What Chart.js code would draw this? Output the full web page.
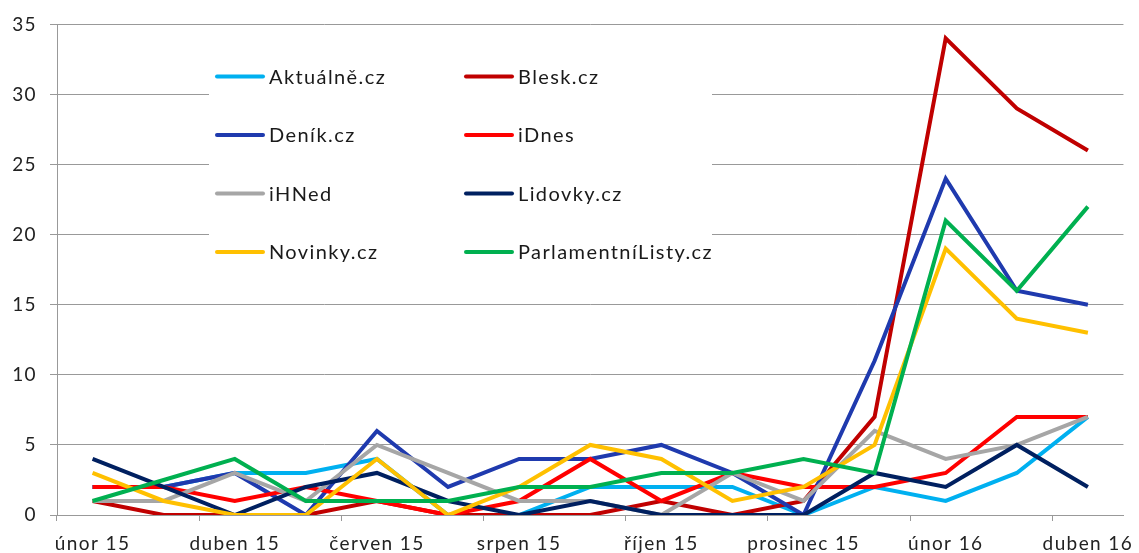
<!DOCTYPE html>
<html>
<head>
<meta charset="utf-8">
<script src="https://cdn.jsdelivr.net/npm/chart.js@4/dist/chart.umd.min.js"></script>
<style>
  body { margin: 0; background: #fff; }
  #wrap { width: 1139px; height: 553px; position: relative; }
</style>
</head>
<body>
<div id="wrap"><canvas id="myChart"></canvas></div>
<script>
// měsíce na ose x
const months = ['únor 15', 'březen 15', 'duben 15', 'květen 15', 'červen 15', 'červenec 15',
  'srpen 15', 'září 15', 'říjen 15', 'listopad 15', 'prosinec 15', 'leden 16',
  'únor 16', 'březen 16', 'duben 16'];

// hodnoty jednotlivých serverů
const aktualne = [2, 2, 3, 3, 4, 0, 0, 2, 2, 2, 0, 2, 1, 3, 7];
const blesk = [1, 0, 0, 0, 1, 0, 0, 0, 1, 0, 1, 7, 34, 29, 26];
const denik = [2, 2, 3, 0, 6, 2, 4, 4, 5, 3, 0, 11, 24, 16, 15];
const idnes = [2, 2, 1, 2, 1, 0, 1, 4, 1, 3, 2, 2, 3, 7, 7];
const ihned = [1, 1, 3, 1, 5, 3, 1, 1, 0, 3, 1, 6, 4, 5, 7];
const lidovky = [4, 2, 0, 2, 3, 1, 0, 1, 0, 0, 0, 3, 2, 5, 2];
const novinky = [3, 1, 0, 0, 4, 0, 2, 5, 4, 1, 2, 5, 19, 14, 13];
const parlamentni = [1, 2.5, 4, 1, 1, 1, 2, 2, 3, 3, 4, 3, 21, 16, 22];

const yTicks = [0, 5, 10, 15, 20, 25, 30, 35];

const series = [
  { label: 'Aktuálně.cz', data: aktualne, color: '#00B0F0' },
  { label: 'Blesk.cz', data: blesk, color: '#C00000' },
  { label: 'Deník.cz', data: denik, color: '#1F3AAE' },
  { label: 'iDnes', data: idnes, color: '#FF0000' },
  { label: 'iHNed', data: ihned, color: '#A6A6A6' },
  { label: 'Lidovky.cz', data: lidovky, color: '#002060' },
  { label: 'Novinky.cz', data: novinky, color: '#FFC000' },
  { label: 'ParlamentníListy.cz', data: parlamentni, color: '#00B050' }
];

const FONT = 'Lato, "Open Sans", sans-serif';
const SPACING = '1.4px';

// rozestup písmen (canvas po změně velikosti stav zapomene, proto před každým kreslením)
const spacing = {
  id: 'spacing',
  beforeDraw(chart) { chart.ctx.letterSpacing = SPACING; }
};

// legenda uvnitř grafu, dva sloupce s bílým pozadím
const boxLegend = {
  id: 'boxLegend',
  afterDatasetsDraw(chart) {
    const ctx = chart.ctx;
    const a = chart.chartArea;
    const x0 = a.left + 152;
    const y0 = a.top + 28;
    ctx.save();
    ctx.letterSpacing = SPACING;
    ctx.fillStyle = '#fff';
    ctx.fillRect(x0, y0, 503, 222);
    ctx.font = '20px ' + FONT;
    ctx.textBaseline = 'middle';
    chart.data.datasets.forEach((ds, i) => {
      const col = i % 2;
      const row = Math.floor(i / 2);
      const lx = x0 + 8 + col * 249;
      const ly = y0 + 24 + row * 58.5;
      ctx.strokeStyle = ds.borderColor;
      ctx.lineWidth = 4;
      ctx.lineCap = 'round';
      ctx.beginPath();
      ctx.moveTo(lx, ly);
      ctx.lineTo(lx + 46, ly);
      ctx.stroke();
      ctx.fillStyle = '#1a1a1a';
      ctx.fillText(ds.label, lx + 52, ly + 1);
    });
    ctx.restore();
  }
};

const ctx = document.getElementById('myChart').getContext('2d');

new Chart(ctx, {
  type: 'line',
  data: {
    labels: months,
    datasets: series.map((s, i) => ({
      label: s.label,
      data: s.data,
      borderColor: s.color,
      backgroundColor: s.color,
      borderWidth: 4,
      pointRadius: 0,
      tension: 0,
      order: series.length - i
    }))
  },
  options: {
    responsive: true,
    maintainAspectRatio: false,
    animation: false,
    layout: { padding: { top: 22, right: 12, left: 0, bottom: 0 } },
    plugins: {
      legend: { display: false },
      tooltip: { enabled: false }
    },
    scales: {
      x: {
        offset: true,
        grid: {
          offset: true,
          drawOnChartArea: false,
          drawTicks: true,
          tickLength: 6,
          color: (c) => (c.index % 2 === 0 && c.index < months.length ? '#999' : 'rgba(0,0,0,0)')
        },
        border: { color: '#999', width: 1 },
        ticks: {
          autoSkip: false,
          maxRotation: 0,
          padding: 11,
          color: '#222',
          font: { family: FONT, size: 19 },
          callback: function (v, i) { return i % 2 === 0 ? months[i] : ''; }
        },
        afterFit: (axis) => { axis.height = 38; }
      },
      y: {
        min: 0,
        max: 35,
        afterBuildTicks: (axis) => { axis.ticks = yTicks.map(v => ({ value: v })); },
        grid: { color: '#999', tickLength: 7 },
        border: { color: '#999', width: 1 },
        ticks: {
          padding: 13,
          color: '#222',
          font: { family: FONT, size: 19 }
        },
        afterFit: (axis) => { axis.width = 57; }
      }
    }
  },
  plugins: [spacing, boxLegend]
});
</script>
</body>
</html>
